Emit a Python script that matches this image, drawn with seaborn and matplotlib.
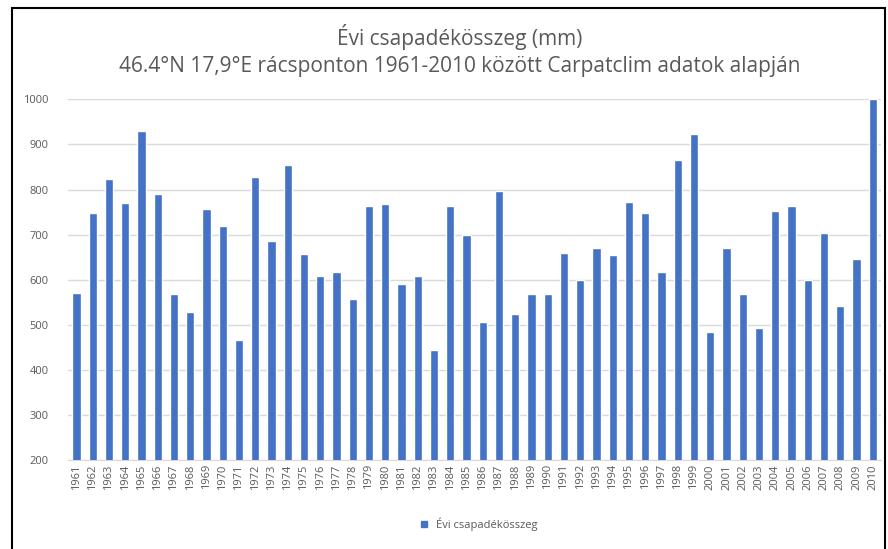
import numpy as np
import pandas as pd
import matplotlib
matplotlib.use('Agg')
import matplotlib.pyplot as plt
import seaborn as sns
from matplotlib.patches import Rectangle
from matplotlib.lines import Line2D

# Annual precipitation
years = [str(y) for y in range(1961, 2011)]
precip = [570, 748, 823, 770, 930, 790, 568, 528, 757, 720,
          466, 828, 686, 855, 657, 608, 617, 557, 763, 767,
          590, 608, 444, 763, 700, 506, 797, 524, 568, 568,
          660, 600, 670, 655, 772, 747, 617, 866, 923, 483,
          670, 568, 492, 753, 763, 600, 704, 542, 645, 1000]
y_ticks = [200, 300, 400, 500, 600, 700, 800, 900, 1000]

title = 'Évi csapadékösszeg (mm)\n46.4°N 17,9°E rácsponton 1961-2010 között Carpatclim adatok alapján'
series_name = 'Évi csapadékösszeg'

df = pd.DataFrame({'year': years, 'precip': precip})

sns.set_style('white')
plt.rcParams['font.family'] = ['Open Sans', 'DejaVu Sans']
text_grey = '#595959'
bar_blue = '#4472C4'

fig = plt.figure(figsize=(8.88, 5.49), dpi=100)
ax = fig.add_axes([0.077, 0.162, 0.915, 0.657])

sns.barplot(data=df, x='year', y='precip', color=bar_blue, width=0.5,
            saturation=1, ax=ax, zorder=3)

ax.set_ylim(200, 1000)
ax.set_xlim(-0.5, len(years) - 0.5)
ax.set_yticks(y_ticks)
ax.yaxis.grid(True, color='#d9d9d9', linewidth=1, zorder=0)
ax.set_axisbelow(True)
ax.set_xlabel('')
ax.set_ylabel('')
for s in ['top', 'right', 'left']:
    ax.spines[s].set_visible(False)
ax.spines['bottom'].set_color('#d9d9d9')
ax.tick_params(axis='y', length=0, labelsize=8, labelcolor=text_grey, pad=14)
ax.tick_params(axis='x', which='major', length=0, labelsize=8,
               labelcolor=text_grey, rotation=90, pad=3)
ax.set_xticks(np.arange(-0.5, len(years), 1), minor=True)
ax.tick_params(axis='x', which='minor', length=4, color='#d9d9d9', direction='out')

fig.text(0.518, 0.908, title, ha='center', va='center', fontsize=15,
         color=text_grey, linespacing=1.35)

handle = Line2D([], [], marker='s', linestyle='', color=bar_blue, markersize=5)
fig.legend([handle], [series_name], loc='center', bbox_to_anchor=(0.535, 0.045),
           frameon=False, fontsize=8, labelcolor=text_grey, handletextpad=0.1)

# screenshot frame
fig.patches.append(Rectangle((0.014, -0.01), 0.983, 0.995, transform=fig.transFigure,
                             fill=False, edgecolor='black', linewidth=1.5))

fig.savefig('out.png', dpi=100)
